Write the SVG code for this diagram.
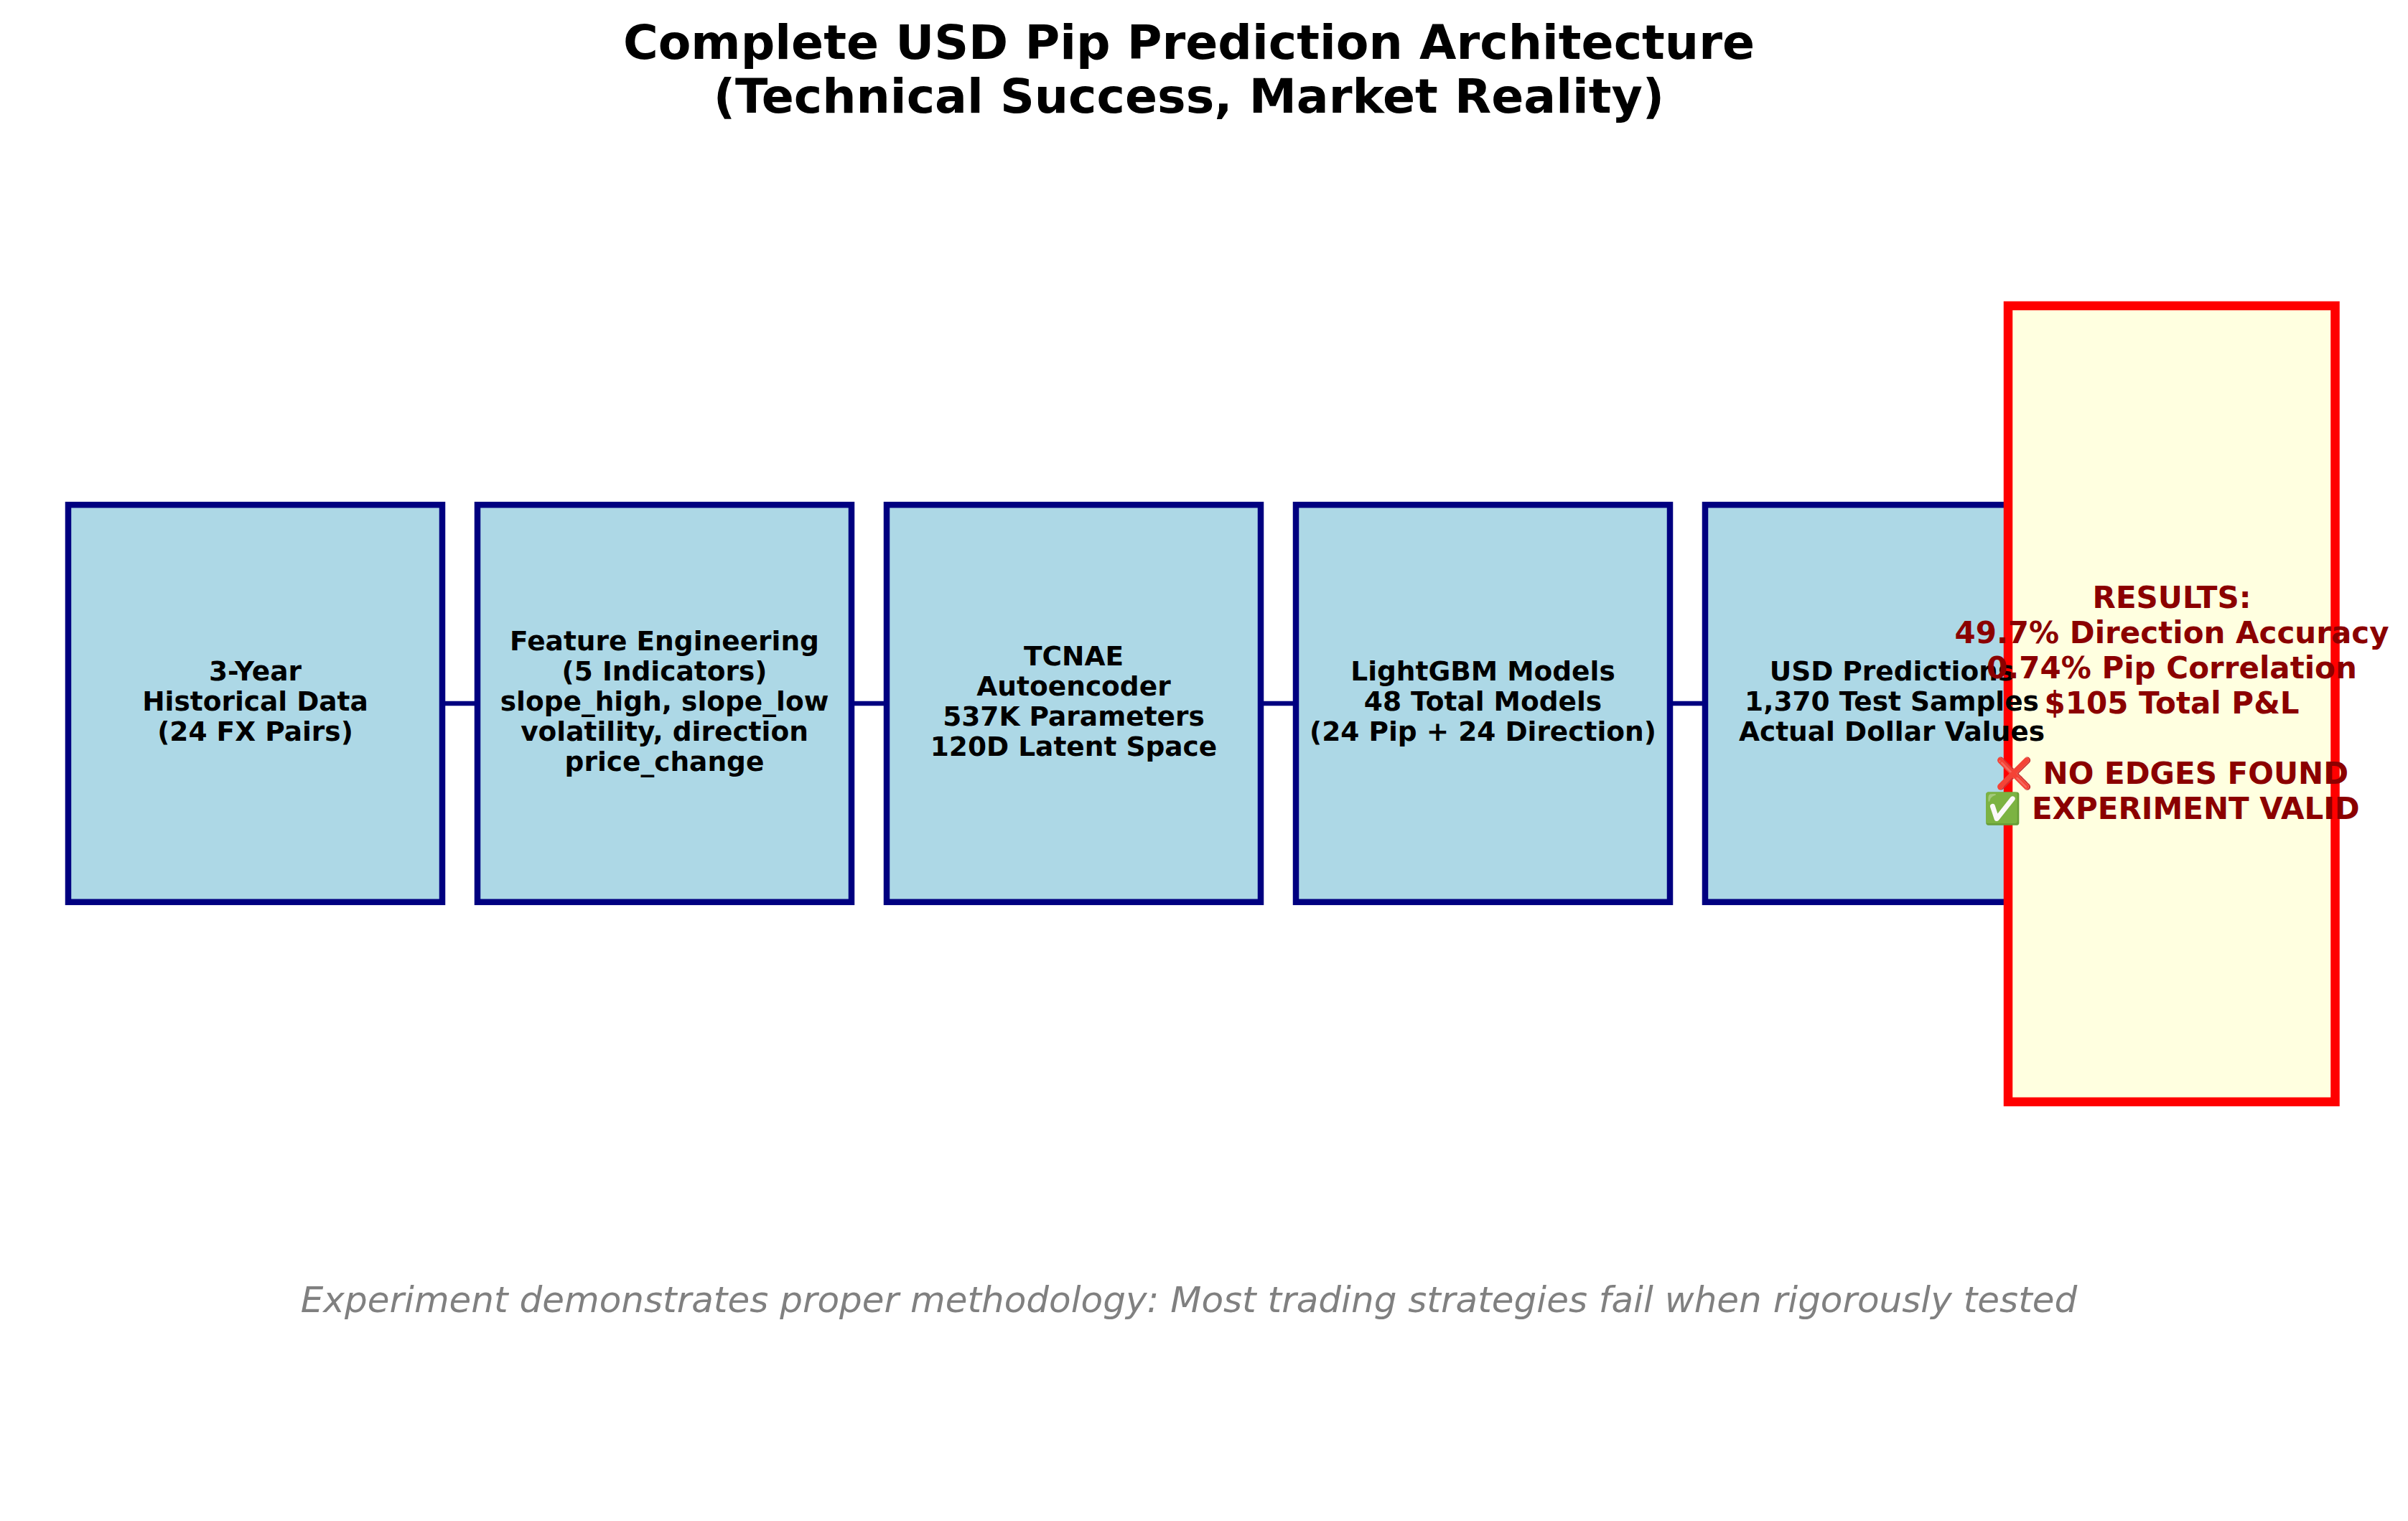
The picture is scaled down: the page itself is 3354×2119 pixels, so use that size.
<svg xmlns="http://www.w3.org/2000/svg" width="3354" height="2119" viewBox="0 0 3354 2119">
<style>
.box{fill:#ADD8E6;stroke:#000080;stroke-width:8.5}
.res{fill:#FFFFE0;stroke:#FF0000;stroke-width:12.5}
.t{font-family:"DejaVu Sans",sans-serif;font-weight:bold;font-size:37.5px;fill:#000;text-anchor:middle}
.r{font-family:"DejaVu Sans",sans-serif;font-weight:bold;font-size:42px;fill:#8B0000;text-anchor:middle}
.title{font-family:"DejaVu Sans",sans-serif;font-weight:bold;font-size:66.5px;fill:#000;text-anchor:middle}
.foot{font-family:"DejaVu Sans",sans-serif;font-style:italic;font-size:50px;fill:#808080;text-anchor:middle}
.c{stroke:#000080;stroke-width:6.5;fill:none}
</style>
<rect width="3354" height="2119" fill="#fff"/>
<g id="title">
<text class="title" x="1656" y="82">Complete USD Pip Prediction Architecture</text>
<text class="title" x="1656" y="157">(Technical Success, Market Reality)</text>
</g>
<g id="connectors">
<line class="c" x1="616" y1="980" x2="665" y2="980"/>
<line class="c" x1="1186" y1="980" x2="1235" y2="980"/>
<line class="c" x1="1756" y1="980" x2="1805" y2="980"/>
<line class="c" x1="2326" y1="980" x2="2375" y2="980"/>
</g>
<g id="node-data">
<rect class="box" x="95" y="703.3" width="521" height="553.4"/>
<text class="t"><tspan x="355.5" y="948">3-Year</tspan><tspan x="355.5" y="990">Historical Data</tspan><tspan x="355.5" y="1032">(24 FX Pairs)</tspan></text>
</g>
<g id="node-features">
<rect class="box" x="665" y="703.3" width="521" height="553.4"/>
<text class="t"><tspan x="925.5" y="906">Feature Engineering</tspan><tspan x="925.5" y="948">(5 Indicators)</tspan><tspan x="925.5" y="990">slope_high, slope_low</tspan><tspan x="925.5" y="1032">volatility, direction</tspan><tspan x="925.5" y="1074">price_change</tspan></text>
</g>
<g id="node-tcnae">
<rect class="box" x="1235" y="703.3" width="521" height="553.4"/>
<text class="t"><tspan x="1495.5" y="927">TCNAE</tspan><tspan x="1495.5" y="969">Autoencoder</tspan><tspan x="1495.5" y="1011">537K Parameters</tspan><tspan x="1495.5" y="1053">120D Latent Space</tspan></text>
</g>
<g id="node-lightgbm">
<rect class="box" x="1805" y="703.3" width="521" height="553.4"/>
<text class="t"><tspan x="2065.5" y="948">LightGBM Models</tspan><tspan x="2065.5" y="990">48 Total Models</tspan><tspan x="2065.5" y="1032">(24 Pip + 24 Direction)</tspan></text>
</g>
<g id="node-usd">
<rect class="box" x="2375" y="703.3" width="521" height="553.4"/>
</g>
<g id="node-results">
<rect class="res" x="2797" y="426" width="455.5" height="1109"/>
</g>
<g id="node-usd-label">
<text class="t"><tspan x="2635" y="948">USD Predictions</tspan><tspan x="2635" y="990">1,370 Test Samples</tspan><tspan x="2635" y="1032">Actual Dollar Values</tspan></text>
</g>
<g id="node-results-label">
<text class="r"><tspan x="3025" y="847">RESULTS:</tspan><tspan x="3025" y="896">49.7% Direction Accuracy</tspan><tspan x="3025" y="945">0.74% Pip Correlation</tspan><tspan x="3025" y="994">$105 Total P&amp;L</tspan><tspan x="3025" y="1092">❌ NO EDGES FOUND</tspan><tspan x="3025" y="1141">✅ EXPERIMENT VALID</tspan></text>
</g>
<g id="footer">
<text class="foot" x="1656" y="1828">Experiment demonstrates proper methodology: Most trading strategies fail when rigorously tested</text>
</g>
</svg>
